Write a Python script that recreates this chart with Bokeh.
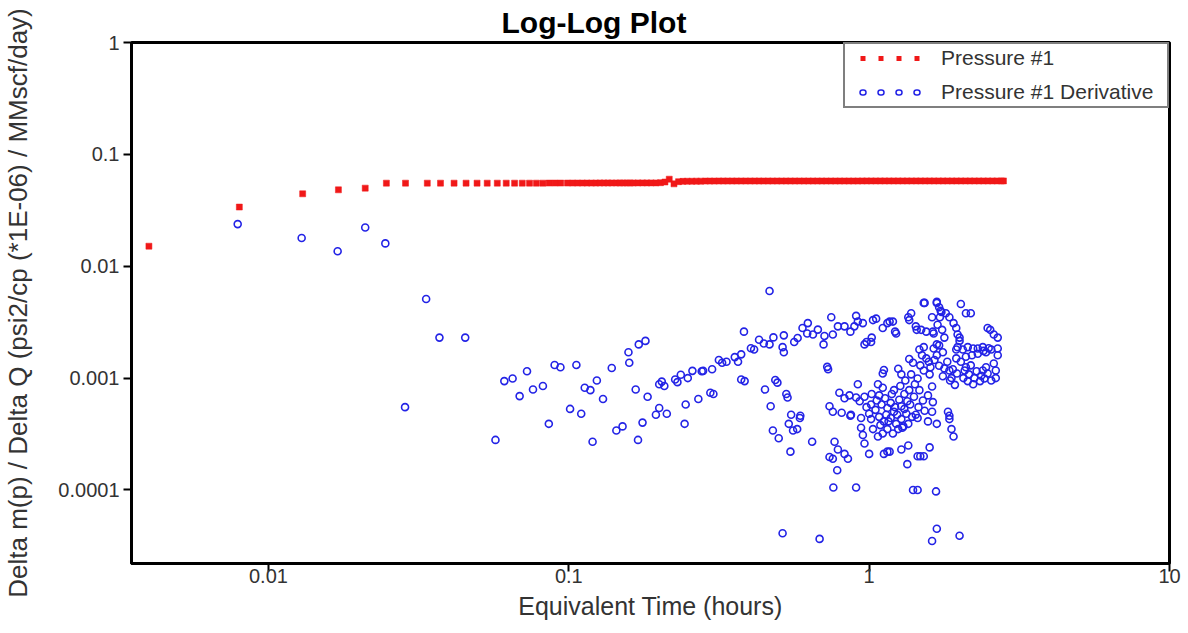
from bokeh.plotting import figure
from bokeh.models import FixedTicker, Legend, LegendItem, Range1d, ColumnDataSource
from bokeh.embed import file_html
from bokeh.resources import INLINE

# ---------------- data ----------------
x_ticks = [0.01, 0.1, 1, 10]
x_tick_labels = ["0.01", "0.1", "1", "10"]
y_ticks = [0.0001, 0.001, 0.01, 0.1, 1]
y_tick_labels = ["0.0001", "0.001", "0.01", "0.1", "1"]

pressure_time = [
    0.0040, 0.0080, 0.0130, 0.0171, 0.0210, 0.0247, 0.0286, 0.0338, 0.0374, 0.0415,
    0.0455, 0.0495, 0.0535, 0.0578, 0.0619, 0.0660, 0.0700, 0.0740, 0.0780, 0.0820,
    0.0860, 0.0900, 0.0940, 0.0990, 0.1030, 0.1070, 0.1110, 0.1150, 0.1190, 0.1230,
    0.1270, 0.1310, 0.1350, 0.1390, 0.1440, 0.1480, 0.1520, 0.1560, 0.1600, 0.1640,
    0.170, 0.176, 0.182, 0.188, 0.195, 0.202, 0.209, 0.216, 0.224, 0.232,
    0.240, 0.248, 0.257, 0.266, 0.275, 0.285, 0.295, 0.305, 0.316, 0.327,
    0.338, 0.350, 0.362, 0.375, 0.388, 0.402, 0.416, 0.430, 0.445, 0.461,
    0.477, 0.494, 0.511, 0.529, 0.547, 0.566, 0.586, 0.607, 0.628, 0.650,
    0.673, 0.696, 0.720, 0.746, 0.772, 0.799, 0.827, 0.856, 0.886, 0.917,
    0.949, 0.982, 1.016, 1.052, 1.089, 1.127, 1.166, 1.207, 1.249, 1.293,
    1.338, 1.385, 1.434, 1.484, 1.536, 1.590, 1.645, 1.703, 1.762, 1.824,
    1.888, 1.954, 2.022, 2.093, 2.166, 2.242, 2.321, 2.402, 2.486, 2.573,
    2.663, 2.756, 2.800,
]
pressure_value = [
    0.0151, 0.0338, 0.0444, 0.0482, 0.0499, 0.0553, 0.0553, 0.0553, 0.0553, 0.0553,
    0.0553, 0.0553, 0.0553, 0.0553, 0.0553, 0.0553, 0.0553, 0.0553, 0.0553, 0.0553,
    0.0554, 0.0554, 0.0554, 0.0554, 0.0554, 0.0554, 0.0554, 0.0554, 0.0554, 0.0554,
    0.0555, 0.0555, 0.0555, 0.0555, 0.0555, 0.0555, 0.0555, 0.0555, 0.0555, 0.0555,
    0.0556, 0.0556, 0.0556, 0.0556, 0.0556, 0.0558, 0.0566, 0.0600, 0.0545, 0.0570,
    0.0574, 0.0575, 0.0575, 0.0576, 0.0576, 0.0577, 0.0577, 0.0577, 0.0578, 0.0578,
    0.0578, 0.0578, 0.0578, 0.0578, 0.0578, 0.0578, 0.0578, 0.0578, 0.0578, 0.0578,
    0.0578, 0.0578, 0.0578, 0.0578, 0.0578, 0.0578, 0.0578, 0.0578, 0.0578, 0.0578,
    0.0578, 0.0578, 0.0578, 0.0578, 0.0578, 0.0578, 0.0578, 0.0578, 0.0578, 0.0578,
    0.0579, 0.0579, 0.0579, 0.0579, 0.0579, 0.0579, 0.0579, 0.0579, 0.0579, 0.0579,
    0.0579, 0.0579, 0.0579, 0.0579, 0.0579, 0.0579, 0.0579, 0.0579, 0.0579, 0.0579,
    0.0579, 0.0579, 0.0579, 0.0579, 0.0579, 0.0579, 0.0579, 0.0579, 0.0579, 0.0579,
    0.0579, 0.0579, 0.0579,
]

derivative_time = [
    0.0079, 0.0129, 0.0170, 0.0210, 0.0245, 0.0285, 0.0335, 0.0371, 0.0452, 0.0570,
    0.0610, 0.0650, 0.0686, 0.0726, 0.0760, 0.0820, 0.0858, 0.0897, 0.0938, 0.1010,
    0.1060, 0.1100, 0.1130, 0.1180, 0.1200, 0.1240, 0.1300, 0.1390, 0.1440, 0.1510,
    0.1580, 0.1590, 0.1670, 0.1700, 0.1710, 0.1760, 0.1800, 0.1830, 0.1950, 0.2000,
    0.2000, 0.2040, 0.2080, 0.2120, 0.2260, 0.2300, 0.2360, 0.2430, 0.2450, 0.2490,
    0.2580, 0.2700, 0.2770, 0.2800, 0.2960, 0.3000, 0.3030, 0.3160, 0.3240, 0.3350,
    0.3570, 0.3660, 0.3750, 0.3750, 0.3830, 0.3850, 0.4040, 0.4140, 0.4300, 0.4460,
    0.4500, 0.4660, 0.4660, 0.4700, 0.4780, 0.4800, 0.4870, 0.4950, 0.5000, 0.5150,
    0.5150, 0.5200, 0.5200, 0.5300, 0.5350, 0.5400, 0.5470, 0.5500, 0.5580, 0.5630,
    0.5760, 0.5780, 0.5880, 0.5900, 0.6000, 0.6220, 0.6250, 0.6460, 0.6500, 0.6750,
    0.6840, 0.7050, 0.7100, 0.7250, 0.7300, 0.7380, 0.7380, 0.7480, 0.7570, 0.7570,
    0.7570, 0.7600, 0.7670, 0.7830, 0.7870, 0.7870, 0.7960, 0.8100, 0.8280, 0.8280,
    0.8280, 0.8500, 0.8600, 0.8660, 0.8660, 0.8700, 0.8930, 0.9050, 0.9050, 0.9050,
    0.9170, 0.9170, 0.9300, 0.9400, 0.9400, 0.9530, 0.9530, 0.9650, 0.9650, 0.9650,
    0.9800, 0.9800, 1.0000, 1.0000, 1.0150, 1.0150, 1.0150, 1.0200, 1.0200, 1.0300,
    1.0300, 1.0500, 1.0550, 1.0600, 1.0700, 1.0700, 1.0800, 1.0800, 1.0900, 1.1000,
    1.1100, 1.1100, 1.1100, 1.1100, 1.1200, 1.1200, 1.1200, 1.1300, 1.1400, 1.1500,
    1.1500, 1.1500, 1.1500, 1.1600, 1.1700, 1.1700, 1.1800, 1.1800, 1.1900, 1.2000,
    1.2000, 1.2100, 1.2100, 1.2200, 1.2200, 1.2300, 1.2300, 1.2400, 1.2500, 1.2500,
    1.2600, 1.2700, 1.2800, 1.2800, 1.2800, 1.2800, 1.2900, 1.3000, 1.3100, 1.3100,
    1.3200, 1.3300, 1.3400, 1.3400, 1.3500, 1.3500, 1.3500, 1.3600, 1.3600, 1.3600,
    1.3700, 1.3800, 1.3800, 1.3900, 1.4000, 1.4000, 1.4100, 1.4200, 1.4300, 1.4300,
    1.4400, 1.4500, 1.4500, 1.4500, 1.4500, 1.4600, 1.4700, 1.4700, 1.4800, 1.4800,
    1.4900, 1.5000, 1.5100, 1.5200, 1.5200, 1.5200, 1.5200, 1.5300, 1.5300, 1.5500,
    1.5500, 1.5700, 1.5700, 1.5800, 1.5900, 1.5900, 1.6000, 1.6200, 1.6200, 1.6200,
    1.6200, 1.6300, 1.6300, 1.6400, 1.6400, 1.6500, 1.6700, 1.6800, 1.6800, 1.6800,
    1.6800, 1.6800, 1.6800, 1.6900, 1.7100, 1.7100, 1.7100, 1.7200, 1.7300, 1.7400,
    1.7500, 1.7600, 1.7600, 1.7800, 1.7800, 1.8000, 1.8200, 1.8300, 1.8500, 1.8500,
    1.8500, 1.8500, 1.8600, 1.8800, 1.8800, 1.9000, 1.9100, 1.9100, 1.9300, 1.9500,
    1.9500, 1.9500, 1.9600, 1.9700, 1.9700, 2.0000, 2.0000, 2.0000, 2.0200, 2.0200,
    2.0500, 2.0600, 2.0800, 2.1000, 2.1000, 2.1000, 2.1300, 2.1300, 2.1500, 2.1800,
    2.1800, 2.2000, 2.2200, 2.2200, 2.2400, 2.2800, 2.3000, 2.3000, 2.3400, 2.3600,
    2.3900, 2.3900, 2.4000, 2.4200, 2.4500, 2.4500, 2.4800, 2.4800, 2.5000, 2.5300,
    2.5500, 2.5500, 2.6000, 2.6000, 2.6400, 2.6400, 2.6800, 2.6800, 2.6800,
]
derivative_value = [
    0.0238, 0.0179, 0.0136, 0.0222, 0.0160, 0.00055, 0.0051, 0.0023, 0.0023, 0.00028,
    0.00094, 0.00099, 0.00069, 0.00115, 0.00079, 0.00085, 0.00039, 0.00131, 0.00125, 0.00053,
    0.00131, 0.00048, 0.00082, 0.00078, 0.00027, 0.00095, 0.00065, 0.00123, 0.00034, 0.00037,
    0.00170, 0.00137, 0.00079, 0.00028, 0.00200, 0.00040, 0.00215, 0.00068, 0.00047, 0.00054,
    0.00088, 0.00093, 0.00085, 0.00048, 0.00097, 0.00092, 0.00107, 0.00039, 0.00058, 0.00100,
    0.00116, 0.00065, 0.00115, 0.00116, 0.00074, 0.00120, 0.00072, 0.00145, 0.00137, 0.00140,
    0.00154, 0.00140, 0.00163, 0.00097, 0.00260, 0.00094, 0.00185, 0.00180, 0.00220, 0.00204,
    0.00079, 0.00600, 0.00200, 0.00056, 0.00034, 0.00231, 0.00096, 0.00091, 0.00029, 0.00189,
    0.000041, 0.00241, 0.00170, 0.00072, 0.00067, 0.00039, 0.00022, 0.00047, 0.00034, 0.00210,
    0.00035, 0.00228, 0.00044, 0.00046, 0.00280, 0.00250, 0.00310, 0.00027, 0.00245, 0.00271,
    0.0000365, 0.00200, 0.00238, 0.00126, 0.00120, 0.00056, 0.000197, 0.00350, 0.00245, 0.00050,
    0.00019, 0.000105, 0.00027, 0.00015, 0.00290, 0.00023, 0.00074, 0.00049, 0.00290, 0.00066,
    0.00021, 0.00019, 0.00070, 0.00260, 0.00046, 0.00047, 0.00290, 0.00360, 0.000105, 0.00067,
    0.00320, 0.00088, 0.00062, 0.00044, 0.00036, 0.00310, 0.00031, 0.00200, 0.00068, 0.00026,
    0.00210, 0.00055, 0.00048, 0.00021, 0.00210, 0.00058, 0.00043, 0.00230, 0.00072, 0.00330,
    0.00035, 0.00052, 0.00340, 0.00063, 0.00088, 0.00030, 0.00070, 0.00045, 0.00038, 0.00058,
    0.00280, 0.00110, 0.00082, 0.00032, 0.00118, 0.00041, 0.00021, 0.00066, 0.00047, 0.00310,
    0.00054, 0.00035, 0.00022, 0.00041, 0.00320, 0.00022, 0.00060, 0.00044, 0.00072, 0.00320,
    0.00032, 0.00078, 0.00050, 0.00260, 0.00055, 0.00250, 0.00039, 0.00047, 0.00121, 0.00035,
    0.00064, 0.00085, 0.00108, 0.00056, 0.00043, 0.00023, 0.00036, 0.00037, 0.00072, 0.00053,
    0.00095, 0.00048, 0.00062, 0.00017, 0.00350, 0.00039, 0.00025, 0.00330, 0.00148, 0.00078,
    0.00058, 0.00380, 0.00108, 0.00045, 0.00137, 0.00010, 0.00068, 0.00088, 0.00290, 0.00047,
    0.00270, 0.00099, 0.00044, 0.00020, 0.00010, 0.00055, 0.00180, 0.00078, 0.00130, 0.00020,
    0.00270, 0.00160, 0.00063, 0.00470, 0.00189, 0.00117, 0.00020, 0.00470, 0.00051, 0.00260,
    0.00150, 0.00070, 0.00041, 0.00140, 0.00108, 0.00024, 0.00125, 0.00350, 0.00084, 0.00050,
    0.000035, 0.00260, 0.00061, 0.00250, 0.00184, 0.00145, 0.000097, 0.00480, 0.00470, 0.00200,
    0.00160, 0.00039, 0.000045, 0.00300, 0.00430, 0.00196, 0.00129, 0.00350, 0.00400, 0.00390,
    0.00270, 0.00170, 0.00104, 0.00230, 0.00122, 0.00380, 0.00140, 0.00050, 0.00350, 0.00117,
    0.00046, 0.00043, 0.00095, 0.00100, 0.00035, 0.00120, 0.00310, 0.00030, 0.00087, 0.00280,
    0.00180, 0.00150, 0.00110, 0.00245, 0.00189, 0.00215, 0.00230, 0.000039, 0.00460, 0.00140,
    0.00180, 0.00100, 0.00117, 0.00380, 0.00155, 0.00125, 0.00189, 0.00094, 0.00108, 0.00380,
    0.00130, 0.00160, 0.00184, 0.00088, 0.00100, 0.00115, 0.00184, 0.00165, 0.00094, 0.00105,
    0.00189, 0.00117, 0.00175, 0.00099, 0.00170, 0.00125, 0.00280, 0.00110, 0.00185, 0.00270,
    0.00180, 0.00095, 0.00245, 0.00135, 0.00117, 0.00100, 0.00230, 0.00184, 0.00160,
]

# ---------------- styles ----------------
FONT = "Liberation Sans"
RED = "#f01818"
BLUE = "#2323e6"
TEXT = "#333333"

p = figure(
    width=1188, height=633,
    x_axis_type="log", y_axis_type="log",
    x_range=Range1d(0.0035, 10), y_range=Range1d(2.2e-5, 1),
    title="Log-Log Plot",
    output_backend="svg", toolbar_location=None,
    min_border_left=130, min_border_right=19,
    min_border_top=41, min_border_bottom=70,
    background_fill_color="white", border_fill_color="white",
)

p.title.text_font = FONT
p.title.text_font_size = "30px"
p.title.text_font_style = "bold"
p.title.text_color = "black"
p.title.align = "left"
p.title.offset = 370
p.title.standoff = 7

p.outline_line_color = "black"
p.outline_line_width = 3
p.xgrid.visible = False
p.ygrid.visible = False

for ax in (p.xaxis[0], p.yaxis[0]):
    ax.axis_line_color = "black"
    ax.axis_line_width = 3
    ax.major_tick_line_color = "black"
    ax.major_tick_line_width = 2
    ax.major_tick_in = 0
    ax.major_tick_out = 8
    ax.minor_tick_line_color = None
    ax.major_label_text_font = FONT
    ax.major_label_text_font_size = "20px"
    ax.major_label_text_color = TEXT
    ax.axis_label_text_font = FONT
    ax.axis_label_text_font_style = "normal"
    ax.axis_label_text_color = TEXT

p.xaxis.axis_label_text_font_size = "25px"
p.yaxis.axis_label_text_font_size = "26px"

p.xaxis.ticker = FixedTicker(ticks=x_ticks)
p.yaxis.ticker = FixedTicker(ticks=y_ticks)
p.xaxis.major_label_overrides = {t: lab for t, lab in zip(x_ticks, x_tick_labels)}
p.yaxis.major_label_overrides = {t: lab for t, lab in zip(y_ticks, y_tick_labels)}
p.xaxis.major_label_standoff = -3
p.yaxis.major_label_standoff = 4
p.xaxis.axis_label = "Equivalent Time (hours)"
p.yaxis.axis_label = "Delta m(p) / Delta Q (psi2/cp (*1E-06) / MMscf/day)"
p.xaxis.axis_label_standoff = 6
p.yaxis.axis_label_standoff = 22

pressure_src = ColumnDataSource(dict(t=pressure_time, v=pressure_value))
deriv_src = ColumnDataSource(dict(t=derivative_time, v=derivative_value))

p.scatter("t", "v", source=pressure_src, marker="square", size=6,
          fill_color=RED, line_color=RED, line_width=0.5)
p.scatter("t", "v", source=deriv_src, marker="circle", size=7,
          fill_color=None, line_color=BLUE, line_width=1.6)

# legend samples (a row of 4 markers each) drawn by renderers holding no visible data
nan = float("nan")
blank = ColumnDataSource(dict(t=[nan, nan], v=[nan, nan]))
leg_red = p.line("t", "v", source=blank, line_color=RED, line_width=5,
                 line_dash="5 13", line_dash_offset=5, line_cap="butt")
leg_blue = p.line("t", "v", source=blank, line_color=BLUE, line_width=6.5,
                  line_dash="1 17", line_dash_offset=3, line_cap="round")
leg_blue_in = p.line("t", "v", source=blank, line_color="white", line_width=3.5,
                     line_dash="1 17", line_dash_offset=3, line_cap="round")

legend = Legend(
    items=[
        LegendItem(label="Pressure #1", renderers=[leg_red]),
        LegendItem(label="Pressure #1 Derivative", renderers=[leg_blue, leg_blue_in]),
    ],
    location="top_right",
    margin=0,
    padding=2,
    spacing=10,
    glyph_width=74,
    glyph_height=24,
    label_height=24,
    label_width=224,
    label_standoff=20,
    label_text_font=FONT,
    label_text_font_size="21px",
    label_text_color=TEXT,
    border_line_color="black",
    border_line_width=2,
    background_fill_color="white",
    background_fill_alpha=1.0,
)
p.add_layout(legend)

open("out.html", "w").write(file_html(p, INLINE))
